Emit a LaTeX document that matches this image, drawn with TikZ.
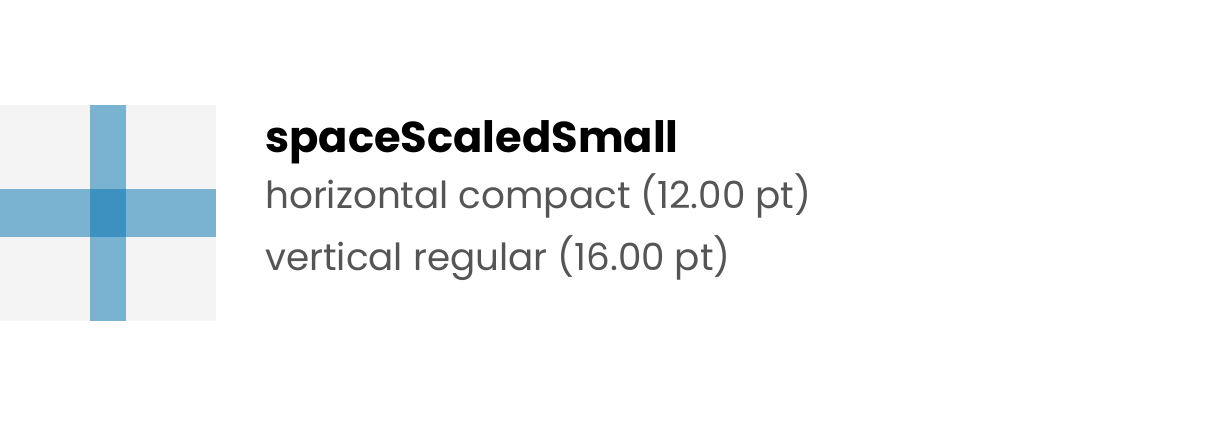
\documentclass[tikz,border=0pt]{standalone}
\usepackage{fontspec}
\setmainfont{Poppins}
\definecolor{tilegray}{RGB}{244,244,244}
\definecolor{spaceblue}{RGB}{2,114,178}
\definecolor{labelgray}{RGB}{85,85,85}
\tikzstyle{bar}=[fill=spaceblue, fill opacity=.5]
\tikzstyle{title}=[anchor=base west, inner sep=0, font=\fontsize{32.4}{38}\selectfont\bfseries]
\tikzstyle{detail}=[anchor=base west, inner sep=0, text=labelgray, font=\fontsize{28}{34}\selectfont]

\begin{document}
\begin{tikzpicture}[x=0.75pt, y=-0.75pt]
  \useasboundingbox (0,0) rectangle (1206,426);
  %% tile with the two spacing bars
  \fill[tilegray] (0,105) rectangle (216,321);
  \fill[bar] (90,105) rectangle (126,321);
  \fill[bar] (0,189) rectangle (216,237);

  %% labels
  \draw (265,152) node[title] (name) {spaceScaledSmall};
  \draw (265,208) node[detail] (horiz) {horizontal compact (12.00 pt)};
  \draw (265,270) node[detail] (vert) {vertical regular (16.00 pt)};
\end{tikzpicture}
\end{document}
